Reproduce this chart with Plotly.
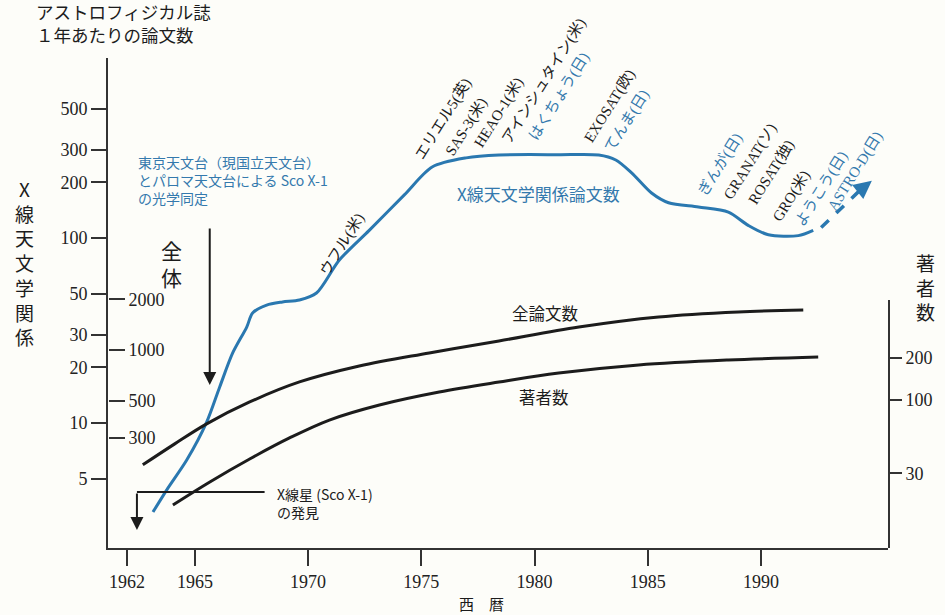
import math
import plotly.graph_objects as go

# ---------------- data ----------------
xray_years = [1963.15, 1963.76, 1964.64, 1965.52, 1966.10, 1966.67, 1967.29, 1967.55,
              1968.17, 1968.87, 1969.62, 1970.37, 1971.38, 1972.70, 1974.25, 1975.48,
              1976.98, 1978.43, 1981.07, 1982.84, 1983.59, 1984.29, 1985.17, 1985.92,
              1987.24, 1988.56, 1989.44, 1990.33, 1991.65, 1992.31]
xray_papers = [3.3, 4.35, 6.3, 10.1, 15.7, 23.9, 33, 39.3,
               43.4, 45.1, 46.2, 50.4, 76, 110, 171, 242,
               271, 281, 282, 281, 264, 225, 175, 155,
               147, 138, 117, 104, 103, 110]
future_years = [1992.66, 1994.55]
future_papers = [114, 190]

total_years = [1962.70, 1964.11, 1965.52, 1967.42, 1969.62, 1972.26, 1975.35,
               1978.43, 1981.96, 1985.48, 1989.00, 1991.87]
total_papers = [207, 276, 363, 490, 645, 803, 960, 1131, 1370, 1572, 1684, 1730]

author_years = [1964.03, 1965.66, 1967.42, 1969.18, 1970.94, 1973.15, 1975.79,
                1978.43, 1981.07, 1984.60, 1988.56, 1992.53]
authors = [17.9, 26.1, 38.0, 53.6, 71.9, 92.0, 113.8, 134, 155, 177, 192, 202]

year_ticks = [1962, 1965, 1970, 1975, 1980, 1985, 1990]
left_ticks = [5, 10, 20, 30, 50, 100, 200, 300, 500]
total_ticks = [300, 500, 1000, 2000]
author_ticks = [30, 100, 200]

black_sats = ["ウフル(米)", "エリエル5(英)", "SAS-3(米)", "HEAO-1(米)", "アインシュタイン(米)",
              "EXOSAT(欧)", "GRANAT(ソ)", "ROSAT(独)", "GRO(米)"]
blue_sats = ["はくちょう(日)", "てんま(日)", "ぎんが(日)", "ようこう(日)", "ASTRO-D(日)"]

# ---------------- layout helpers ----------------
W, H = 945, 615
L, R, T, B = 108, 890, 58, 548


def px(x):
    return (x - L) / (R - L)


def py(y):
    return (B - y) / (B - T)


BLUE = "#2a78b0"
BLUE_TXT = "#3479ad"
INK = "#1c1c1c"
SERIF = "Liberation Serif, Noto Sans CJK JP"
CJK = "Noto Sans CJK JP"
BG = "#fdfdf9"
CLEAR = "rgba(0,0,0,0)"

fig = go.Figure()

fig.add_trace(go.Scatter(x=xray_years, y=xray_papers, mode="lines",
                         line=dict(color=BLUE, width=3, shape="spline", smoothing=0.8),
                         yaxis="y", hoverinfo="skip", showlegend=False))
fig.add_trace(go.Scatter(x=future_years, y=future_papers, mode="lines",
                         line=dict(color=BLUE, width=3.5, dash="dash"),
                         yaxis="y", hoverinfo="skip", showlegend=False))
fig.add_trace(go.Scatter(x=total_years, y=total_papers, mode="lines",
                         line=dict(color=INK, width=3, shape="spline", smoothing=1.0),
                         yaxis="y2", hoverinfo="skip", showlegend=False))
fig.add_trace(go.Scatter(x=author_years, y=authors, mode="lines",
                         line=dict(color=INK, width=3, shape="spline", smoothing=1.0),
                         yaxis="y3", hoverinfo="skip", showlegend=False))

tickfont = dict(family=SERIF, size=18, color="#222")

fig.update_layout(
    width=W, height=H,
    margin=dict(l=L, r=W - R, t=T, b=H - B),
    paper_bgcolor=BG, plot_bgcolor=CLEAR,
    showlegend=False,
    xaxis=dict(range=[1962 + (L - 127) / 22.7, 1962 + (R - 127) / 22.7],
               tickvals=year_ticks, ticks="outside", ticklen=16, tickwidth=1.5,
               tickcolor="#333", showline=True, linewidth=2, linecolor="#333",
               showgrid=False, zeroline=False, tickfont=tickfont),
    yaxis=dict(type="log", range=[0.324, 2.973], tickvals=left_ticks,
               ticktext=[str(v) for v in left_ticks],
               ticks="outside", ticklen=15, tickwidth=1.5, tickcolor="#333",
               showline=True, linewidth=2, linecolor="#333", showgrid=False,
               zeroline=False, tickfont=tickfont),
    yaxis2=dict(type="log", range=[1.821, 4.738], overlaying="y", anchor="free",
                position=0, side="right", tickvals=total_ticks,
                ticktext=[str(v) for v in total_ticks],
                ticks="outside", ticklen=16, tickwidth=1.5, tickcolor="#333",
                showline=False, showgrid=False, zeroline=False, tickfont=tickfont),
    yaxis3=dict(type="log", range=[0.947, 2.710], domain=[0, py(300)], anchor="x",
                side="right", tickvals=author_ticks,
                ticktext=[str(v) for v in author_ticks],
                ticks="outside", ticklen=12, tickwidth=1.5, tickcolor="#333",
                showline=True, linewidth=2, linecolor="#333", showgrid=False,
                zeroline=False, tickfont=tickfont),
)

ann = []


def text(t, x, y, size=14, color=INK, family=CJK, angle=0, xanchor="center",
         yanchor="middle", align="center"):
    ann.append(dict(text=t, x=px(x), y=py(y), xref="paper", yref="paper",
                    showarrow=False, textangle=angle, xanchor=xanchor,
                    yanchor=yanchor, align=align,
                    font=dict(family=family, size=size, color=color)))


# axis titles
text("アストロフィジカル誌<br>１年あたりの論文数", 34, -3, size=17.5, xanchor="left",
     yanchor="top", align="left")
text("X<br>線<br>天<br>文<br>学<br>関<br>係", 24, 262, size=19)
text("全<br>体", 172, 263, size=21)
text("著<br>者<br>数", 928, 287, size=19)
text("西　暦", 482, 603, size=15)

# curve labels
text("X線天文学関係論文数", 540, 193, size=17, color=BLUE_TXT)
text("全論文数", 546, 313, size=16.5)
text("著者数", 545, 397, size=16.5)

# annotations with arrows
text("東京天文台（現国立天文台）<br>とパロマ天文台による Sco X-1<br>の光学同定",
     136, 150, size=14, color=BLUE_TXT, xanchor="left", yanchor="top", align="left")
text("X線星 (Sco X-1)<br>の発見", 275, 482, size=14, xanchor="left",
     yanchor="top", align="left")

ann.append(dict(x=px(210), y=py(385), xref="paper", yref="paper", ax=0, ay=-158,
                showarrow=True, arrowhead=2, arrowsize=1.3, arrowwidth=2,
                arrowcolor=INK, text=""))
ann.append(dict(x=px(137), y=py(530), xref="paper", yref="paper", ax=0, ay=-38,
                showarrow=True, arrowhead=2, arrowsize=1.3, arrowwidth=2,
                arrowcolor=INK, text=""))
ann.append(dict(x=future_years[-1] + 0.35, y=math.log10(future_papers[-1]) + 0.03,
                xref="x", yref="y", ax=-14, ay=11, showarrow=True, arrowhead=2,
                arrowsize=1.2, arrowwidth=3, arrowcolor=BLUE, text=""))

# satellite labels (rotated)
black_pos = [(343, 244), (444, 119), (467, 127), (500, 112), (545, 81),
             (612, 106), (752, 161), (773, 172), (793, 196)]
blue_pos = [(561, 97), (628, 121), (722, 164), (823, 189), (857, 171)]
for s, (x, y) in zip(black_sats, black_pos):
    text(s, x, y, size=15, family=SERIF, angle=-58)
for s, (x, y) in zip(blue_sats, blue_pos):
    text(s, x, y, size=15, family=SERIF, color=BLUE_TXT, angle=-58)

fig.update_layout(annotations=ann)

fig.add_shape(type="line", xref="paper", yref="paper", x0=px(137), x1=px(265),
              y0=py(492), y1=py(492), line=dict(color=INK, width=2))

fig.write_html("out.html", config={"displayModeBar": False},
               post_script="document.body.style.margin='0';"
                           "document.body.style.overflow='hidden';")
